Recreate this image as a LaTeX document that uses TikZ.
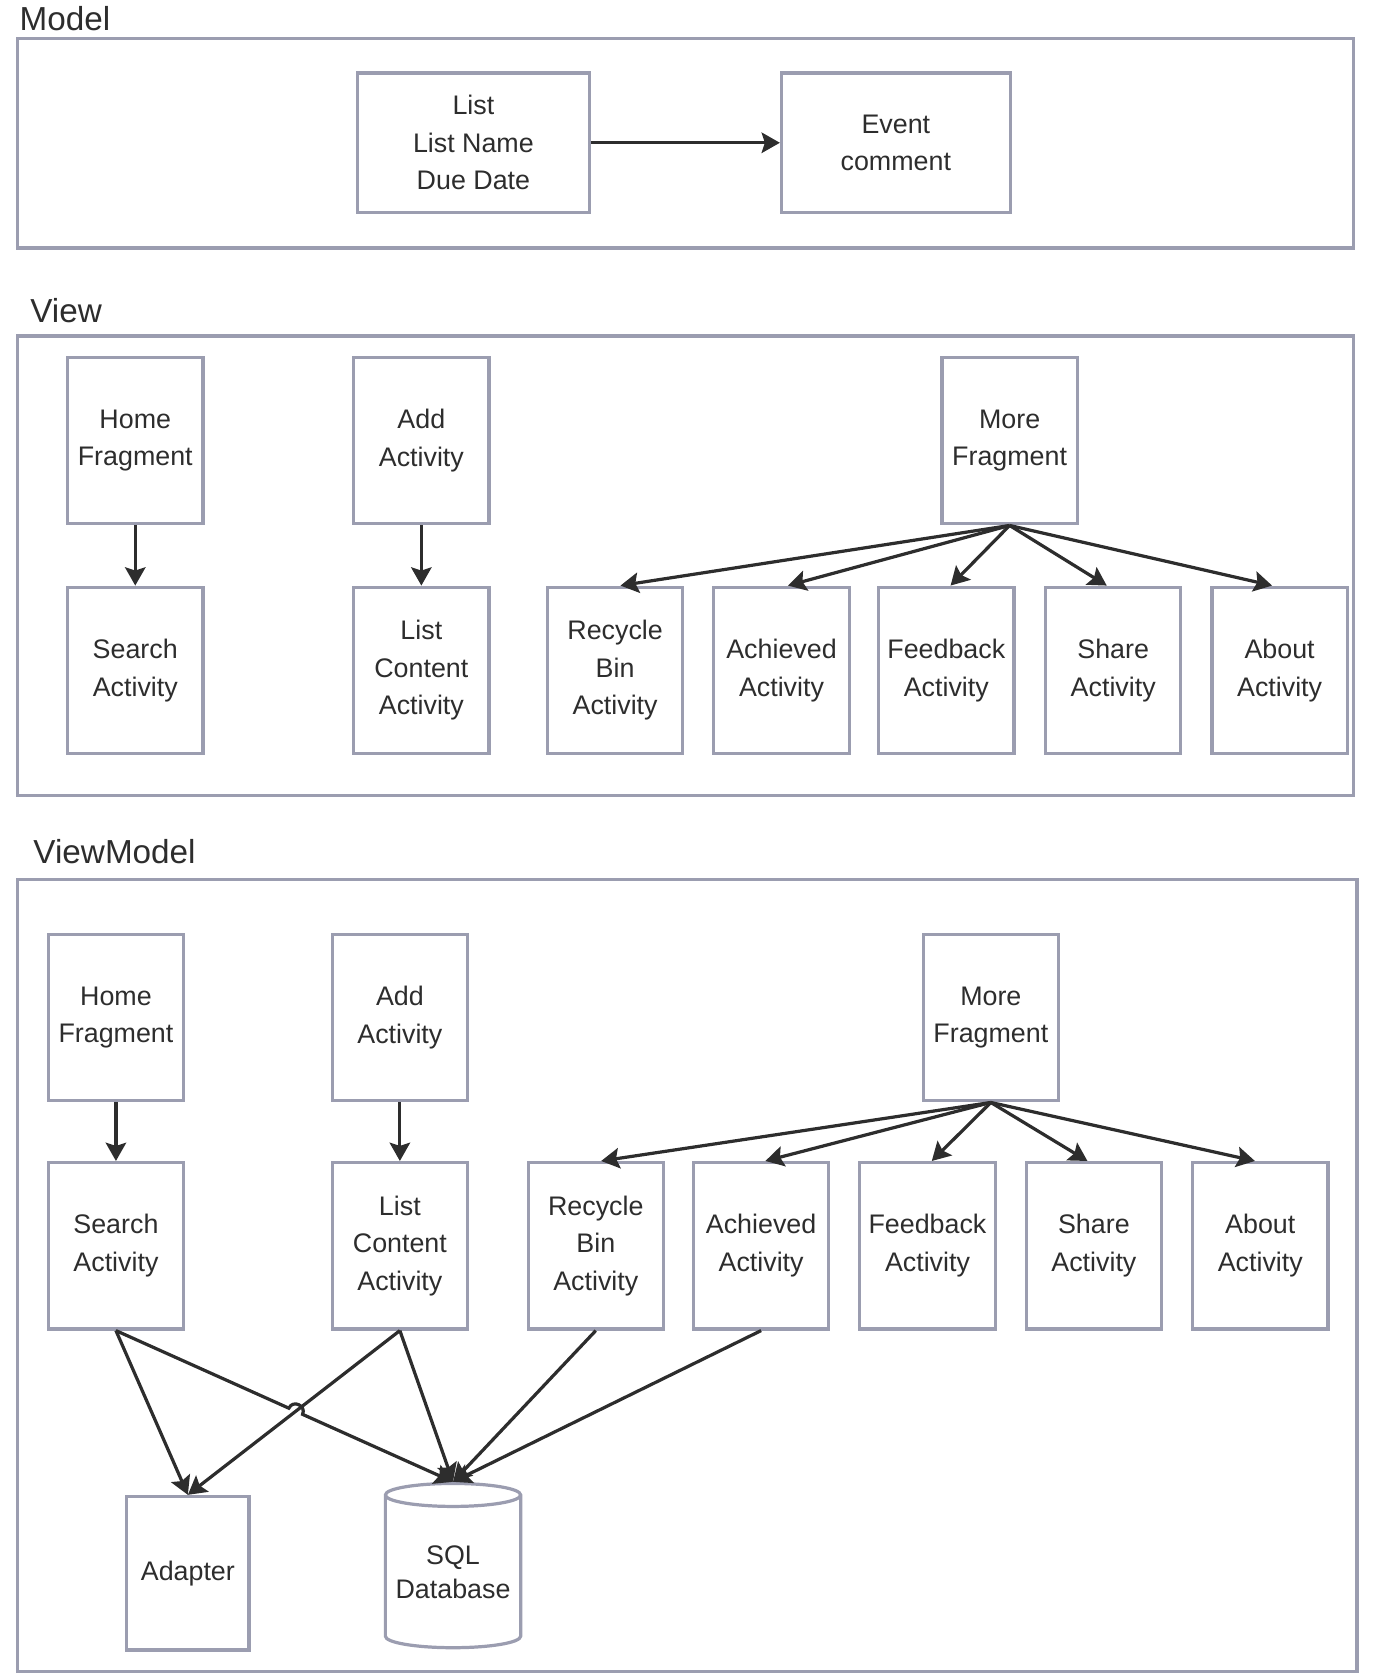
\documentclass[tikz,border=0pt]{standalone}
\usepackage{fontspec}
\setmainfont{Liberation Sans}
\usetikzlibrary{arrows.meta,shapes.geometric,calc,intersections}
\definecolor{edge}{RGB}{155,157,176}
\definecolor{ink}{RGB}{45,45,45}

\begin{document}
\begin{tikzpicture}[x=1pt,y=-1pt,
  frame/.style={draw=edge,line width=3pt},
  title/.style={anchor=west,inner sep=0pt,text=ink,font=\fontsize{31}{36}\selectfont},
  box/.style={draw=edge,line width=3pt,align=center,inner sep=0pt,text=ink,font=\fontsize{25}{35}\selectfont},
  tall/.style={box,minimum width=126pt,minimum height=155pt},
  arr/.style={draw=ink,line width=3pt,-{Stealth[length=17pt,width=19pt,inset=3pt]}}]
  \useasboundingbox (0,0) rectangle (1280,1565);
  % Model
  \node (mt) at (18,17) [title] {Model};
  \draw[frame] (16,36) rectangle (1261,231);
  \node (ls) at (441,133) [box,minimum width=216pt,minimum height=130pt] {List\\List Name\\Due Date};
  \node (ev) at (834.5,133) [box,minimum width=213pt,minimum height=130pt] {Event\\comment};
  \draw[arr] (ls) -- (ev);
  % View
  \node (vt) at (28,289) [title] {View};
  \draw[frame] (16,313) rectangle (1261,741);
  \node (vhf) at (126,410.5) [tall] {Home\\Fragment};
  \node (vaa) at (392.5,410.5) [tall] {Add\\Activity};
  \node (vmf) at (940.5,410.5) [tall] {More\\Fragment};
  \node (vsa) at (126,624.5) [tall] {Search\\Activity};
  \node (vlc) at (392.5,624.5) [tall] {List\\Content\\Activity};
  \node (vrb) at (573,624.5) [tall] {Recycle\\Bin\\Activity};
  \node (vac) at (728,624.5) [tall] {Achieved\\Activity};
  \node (vfb) at (881.5,624.5) [tall] {Feedback\\Activity};
  \node (vsh) at (1037,624.5) [tall] {Share\\Activity};
  \node (vab) at (1192,624.5) [tall] {About\\Activity};
  \draw[arr] (vhf) -- (vsa);
  \draw[arr] (vaa) -- (vlc);
  \draw[arr] (vmf.south) -- ([xshift=5pt]vrb.north);
  \draw[arr] (vmf.south) -- ([xshift=6pt]vac.north);
  \draw[arr] (vmf.south) -- ([xshift=4pt]vfb.north);
  \draw[arr] (vmf.south) -- ([xshift=-6pt]vsh.north);
  \draw[arr] (vmf.south) -- ([xshift=-7pt]vab.north);
  % ViewModel
  \node (mvt) at (31,793) [title] {ViewModel};
  \draw[frame] (16,819) rectangle (1264,1557);
  \node (mhf) at (108,948) [tall] {Home\\Fragment};
  \node (maa) at (372.5,948) [tall] {Add\\Activity};
  \node (mmf) at (923,948) [tall] {More\\Fragment};
  \node (msa) at (108,1160.5) [tall] {Search\\Activity};
  \node (mlc) at (372.5,1160.5) [tall] {List\\Content\\Activity};
  \node (mrb) at (555,1160.5) [tall] {Recycle\\Bin\\Activity};
  \node (mac) at (709,1160.5) [tall] {Achieved\\Activity};
  \node (mfb) at (864,1160.5) [tall] {Feedback\\Activity};
  \node (msh) at (1019,1160.5) [tall] {Share\\Activity};
  \node (mab) at (1174,1160.5) [tall] {About\\Activity};
  \node (ad) at (175,1465.5) [box,minimum width=114pt,minimum height=143pt] {Adapter};
  \node (db) at (422,1464.5) [box,shape=cylinder,shape border rotate=90,aspect=0.2,minimum width=126pt,minimum height=153pt,font=\fontsize{25}{31}\selectfont] {SQL\\Database};
  \draw[arr] (mhf) -- (msa);
  \draw[arr] (maa) -- (mlc);
  \draw[arr] (mmf.south) -- ([xshift=5pt]mrb.north);
  \draw[arr] (mmf.south) -- ([xshift=4pt]mac.north);
  \draw[arr] (mmf.south) -- ([xshift=4pt]mfb.north);
  \draw[arr] (mmf.south) -- ([xshift=-6pt]msh.north);
  \draw[arr] (mmf.south) -- ([xshift=-5pt]mab.north);
  % lines into adapter and database
  \draw[arr] (msa.south) -- (ad.north);
  \draw[arr,name path=lc2ad] (mlc.south) -- (ad.north);
  \path[name path=sa2db] (msa.south) -- (db.north);
  \path[name intersections={of=lc2ad and sa2db,by=hop}];
  \coordinate (h1) at ($(hop)!7pt!(msa.south)$);
  \coordinate (h2) at ($(hop)!7pt!(db.north)$);
  \draw[arr] (msa.south) -- (h1) .. controls ($(h1)!9pt!90:(hop)$) and ($(h2)!9pt!-90:(hop)$) .. (h2) -- (db.north);
  \draw[arr] (mlc.south) -- (db.north);
  \draw[arr] (mrb.south) -- (db.north);
  \draw[arr] (mac.south) -- (db.north);
\end{tikzpicture}
\end{document}
